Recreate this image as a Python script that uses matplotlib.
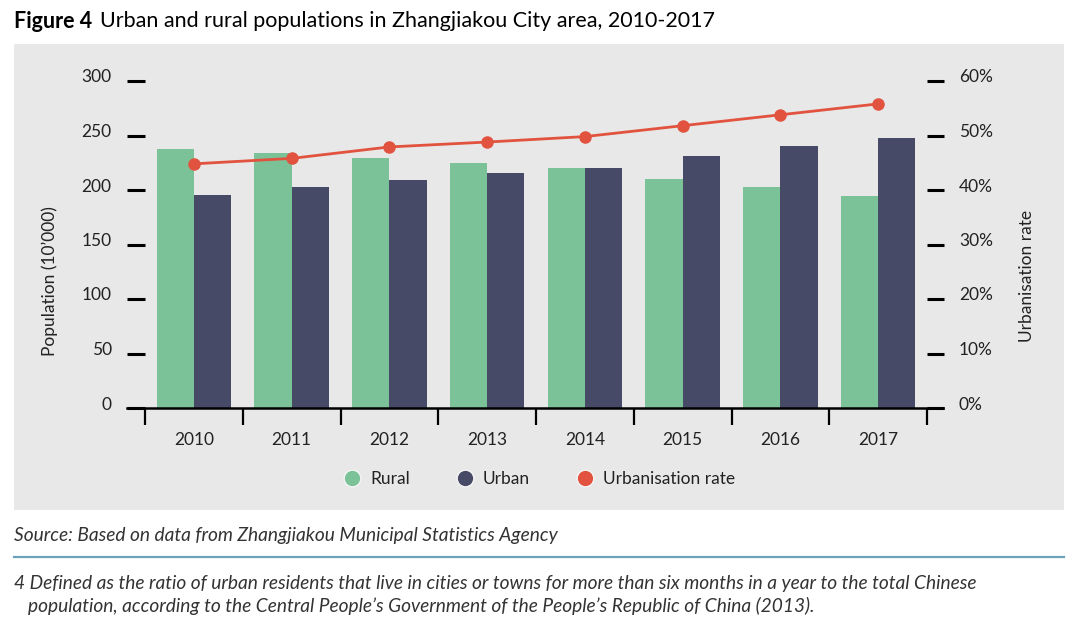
import matplotlib
matplotlib.use("Agg")
import matplotlib.pyplot as plt
import numpy as np
from matplotlib.lines import Line2D
from matplotlib.patches import Rectangle
from matplotlib.transforms import ScaledTranslation
from matplotlib.ticker import FuncFormatter

years = ["2010", "2011", "2012", "2013", "2014", "2015", "2016", "2017"]
rural = [237.5, 233.5, 229.5, 224.5, 220.5, 210.5, 202.5, 194.5]
urban = [195.5, 202.5, 209.0, 216.0, 220.5, 231.0, 240.0, 247.5]
rate = [44.8, 45.8, 47.9, 48.8, 49.8, 51.8, 53.8, 55.8]
left_ticks = [0, 50, 100, 150, 200, 250, 300]
right_ticks = [0, 10, 20, 30, 40, 50, 60]

C_RURAL = "#7bc299"
C_URBAN = "#464a67"
C_RATE = "#e2533f"
C_PANEL = "#e8e8e8"
C_TEXT = "#222222"

plt.rcParams["font.family"] = ["Lato", "DejaVu Sans"]
W, H = 1080, 633
fig = plt.figure(figsize=(W / 100, H / 100), dpi=100)
fig.patch.set_facecolor("white")

# gray panel
fig.patches.append(Rectangle((14 / W, 1 - 510 / H), (1064 - 14) / W, (510 - 44) / H,
                             transform=fig.transFigure, facecolor=C_PANEL, edgecolor="none", zorder=-5))

ax = fig.add_axes([145 / W, 1 - 408 / H, (927 - 145) / W, (408 - 81) / H])
ax.set_facecolor("none")
x = np.arange(len(years))
bw = 0.38
ax.bar(x - bw / 2, rural, bw, color=C_RURAL, zorder=2)
ax.bar(x + bw / 2, urban, bw, color=C_URBAN, zorder=2)
ax.set_xlim(-0.5, len(years) - 0.5)
ax.set_ylim(0, 300)
ax.set_yticks(left_ticks)

ax2 = ax.twinx()
ax2.set_ylim(0, 60)
ax2.set_yticks(right_ticks)
ax2.yaxis.set_major_formatter(FuncFormatter(lambda v, p: f"{int(v)}%"))
ax2.plot(x, rate, color=C_RATE, lw=2, marker="o", ms=8, zorder=3)

for a in (ax, ax2):
    for s in a.spines.values():
        s.set_visible(False)

ax.set_xticks(x)
ax.set_xticklabels(years)
ax.set_xticks(np.arange(-0.5, len(years)), minor=True)
ax.tick_params(axis="x", which="major", length=0, pad=17, labelsize=12.5, labelcolor=C_TEXT)
ax.tick_params(axis="x", which="minor", length=12, width=1.6, direction="out", color="black")
ax.tick_params(axis="y", length=13, width=2.2, pad=11, labelsize=12.5, labelcolor=C_TEXT, color="black")
ax2.tick_params(axis="y", length=12, width=2.2, pad=11, labelsize=12.5, labelcolor=C_TEXT, color="black")

# baseline extending past both tick columns
ax.add_line(Line2D([-0.023, 1.021], [0, 0], transform=ax.transAxes, color="black", lw=1.8,
                   clip_on=False, zorder=5))

off = ScaledTranslation(0, 5 / 100, fig.dpi_scale_trans)
for lab in ax.get_yticklabels() + ax2.get_yticklabels():
    lab.set_transform(lab.get_transform() + off)

fig.text(50 / W, 1 - 281 / H, "Population (10\u2019000)", rotation=90, ha="center", va="center",
         fontsize=12.5, color=C_TEXT)
fig.text(1027 / W, 1 - 276 / H, "Urbanisation rate", rotation=90, ha="center", va="center",
         fontsize=12.5, color=C_TEXT)

# legend
handles = [Line2D([], [], ls="none", marker="o", ms=12, color=C_RURAL, markeredgecolor="#f4f4f4", mew=1),
           Line2D([], [], ls="none", marker="o", ms=12, color=C_URBAN, markeredgecolor="#f4f4f4", mew=1),
           Line2D([], [], ls="none", marker="o", ms=12, color=C_RATE, markeredgecolor="#f4f4f4", mew=1)]
fig.legend(handles, ["Rural", "Urban", "Urbanisation rate"], loc="center",
           bbox_to_anchor=(540 / W, 1 - 479 / H), ncol=3, frameon=False, fontsize=12.5,
           handlelength=0.8, handletextpad=0.65, columnspacing=2.75, labelcolor=C_TEXT)

# title
t1 = fig.text(14 / W, 1 - 21 / H, "Figure 4", fontsize=15.5, fontweight="bold", va="center",
              ha="left", color="black")
fig.canvas.draw()
bb = t1.get_window_extent()
fig.text((bb.x1 + 8) / W, 1 - 21 / H, "Urban and rural populations in Zhangjiakou City area, 2010-2017",
         fontsize=15.5, va="center", ha="left", color="black")

ital = ["Lato", "DejaVu Sans"]
fig.text(14 / W, 1 - 535 / H, "Source: Based on data from Zhangjiakou Municipal Statistics Agency",
         fontsize=13.8, style="italic", family=ital, va="center", ha="left", color="#333333")
fig.add_artist(Line2D([14 / W, 1064 / W], [1 - 557 / H, 1 - 557 / H], transform=fig.transFigure,
                      color="#6aa3b8", lw=1.6))
fig.text(14 / W, 1 - 583 / H,
         "4 Defined as the ratio of urban residents that live in cities or towns for more than six months in a year to the total Chinese",
         fontsize=13.8, style="italic", family=ital, va="center", ha="left", color="#333333")
fig.text(28 / W, 1 - 606 / H,
         "population, according to the Central People\u2019s Government of the People\u2019s Republic of China (2013).",
         fontsize=13.8, style="italic", family=ital, va="center", ha="left", color="#333333")

fig.savefig("out.png", dpi=100)
